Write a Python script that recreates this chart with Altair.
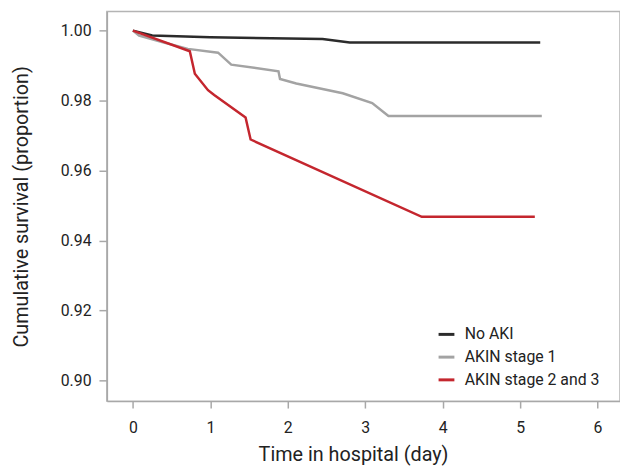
import altair as alt
import pandas as pd

groups = ["No AKI", "AKIN stage 1", "AKIN stage 2 and 3"]
colors = ["#2b2b2b", "#a3a3a3", "#c4262e"]

no_aki_day = [0.0, 0.25, 1.0, 2.45, 2.80, 5.26]
no_aki_surv = [1.000, 0.9986, 0.9981, 0.9976, 0.9966, 0.9966]

stage1_day = [0.0, 0.08, 0.40, 0.71, 1.10, 1.27, 1.88, 1.90, 2.11, 2.71, 3.09, 3.30, 5.28]
stage1_surv = [1.000, 0.9986, 0.9966, 0.9948, 0.9937, 0.9903, 0.9884, 0.9862, 0.9849, 0.9821, 0.9793, 0.9756, 0.9756]

stage23_day = [0.0, 0.735, 0.80, 0.97, 1.05, 1.455, 1.52, 3.73, 5.19]
stage23_surv = [1.000, 0.9941, 0.9877, 0.9830, 0.9816, 0.9752, 0.9689, 0.9468, 0.9468]

x_ticks = [0, 1, 2, 3, 4, 5, 6]
y_ticks = [0.90, 0.92, 0.94, 0.96, 0.98, 1.00]

rows = []
for g, ds, ss in zip(groups, [no_aki_day, stage1_day, stage23_day],
                     [no_aki_surv, stage1_surv, stage23_surv]):
    for d, s in zip(ds, ss):
        rows.append({"group": g, "day": d, "surv": s})
df = pd.DataFrame(rows)

FONT = "Roboto"

chart = alt.Chart(df).mark_line(strokeWidth=2.5).encode(
    x=alt.X("day:Q",
            scale=alt.Scale(domain=[-0.336, 6.29], nice=False, zero=False),
            axis=alt.Axis(values=x_ticks, title="Time in hospital (day)", grid=False,
                          tickSize=7, labelPadding=12, labelFontSize=16,
                          titleFontSize=20, titleFontWeight="normal",
                          titleX=249, titleY=54, titleBaseline="middle",
                          titleAlign="center")),
    y=alt.Y("surv:Q",
            scale=alt.Scale(domain=[0.89415, 1.00545], nice=False, zero=False),
            axis=alt.Axis(values=y_ticks, format=".2f", title="Cumulative survival (proportion)",
                          grid=False, tickSize=8, labelPadding=8, labelFontSize=16,
                          titleFontSize=20, titleFontWeight="normal",
                          titleX=-86, titleY=197, titleAngle=270,
                          titleBaseline="middle", titleAlign="center")),
    color=alt.Color("group:N",
                    scale=alt.Scale(domain=groups, range=colors),
                    sort=groups,
                    legend=alt.Legend(title=None, orient="none", legendX=334, legendY=317,
                                      symbolType="stroke", symbolSize=256,
                                      symbolStrokeWidth=3, labelFontSize=16,
                                      labelOffset=9, rowPadding=5, padding=0,
                                      labelColor="#222222")),
).properties(
    width=519, height=394,
    autosize=alt.AutoSizeParams(type="none"),
    padding={"left": 100, "top": 1, "right": 0, "bottom": 63},
).configure(
    font=FONT,
).configure_view(
    stroke="#b4b4b4", strokeWidth=1.5,
).configure_axis(
    domainColor="#a8a8a8", domainWidth=1.5, tickColor="#a8a8a8", tickWidth=1.5,
    labelColor="#222222", titleColor="#222222", labelFont=FONT, titleFont=FONT,
)

chart.save("out.html", embed_options={"renderer": "svg", "actions": False})
